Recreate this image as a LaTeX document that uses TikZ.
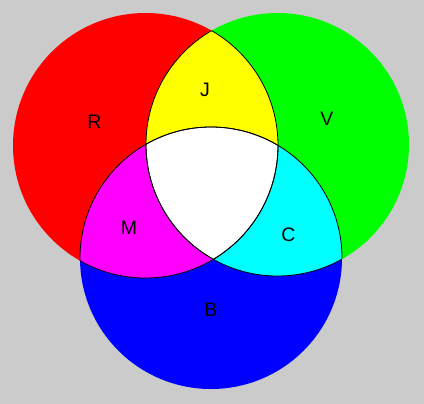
\documentclass[tikz,border=0pt]{standalone}
\usepackage{fontspec}
\setmainfont{Liberation Sans}
\definecolor{bggray}{RGB}{203,203,203}
\definecolor{cred}{RGB}{255,0,0}
\definecolor{cgreen}{RGB}{0,255,0}
\definecolor{cblue}{RGB}{0,0,255}
\definecolor{cyellow}{RGB}{255,255,0}
\definecolor{cmagenta}{RGB}{255,0,255}
\definecolor{ccyan}{RGB}{0,255,255}
\begin{document}
\begin{tikzpicture}[x=1pt,y=-1pt,
  lbl/.style={font=\fontsize{19.5}{20}\selectfont, inner sep=0pt, text=black},
  edge/.style={draw=black, line width=0.8pt}]
\fill[bggray] (0,0) rectangle (424,404);
\useasboundingbox (0,0) rectangle (424,404);
\coordinate (cr) at (145.5,145.5);
\coordinate (cg) at (277.5,144.5);
\coordinate (cb) at (211,258);
\def\RR{(cr) circle[radius=132.5pt]}
\def\GG{(cg) circle[radius=131.5pt]}
\def\BB{(cb) circle[radius=131pt]}
% base discs
\fill[cred] \RR;
\fill[cgreen] \GG;
\fill[cblue] \BB;
% pairwise overlaps
\begin{scope}\clip \RR; \fill[cyellow] \GG; \end{scope}
\begin{scope}\clip \RR; \fill[cmagenta] \BB; \end{scope}
\begin{scope}\clip \GG; \fill[ccyan] \BB; \end{scope}
% triple overlap
\begin{scope}\clip \RR; \clip \GG; \fill[white] \BB; \end{scope}
% inner boundary arcs
\begin{scope}\clip \GG; \draw[edge] \RR; \end{scope}
\begin{scope}\clip \BB; \draw[edge] \RR; \end{scope}
\begin{scope}\clip \RR; \draw[edge] \GG; \end{scope}
\begin{scope}\clip \BB; \draw[edge] \GG; \end{scope}
\begin{scope}\clip \RR; \draw[edge] \BB; \end{scope}
\begin{scope}\clip \GG; \draw[edge] \BB; \end{scope}
% labels
\node[lbl] (r) at (94.5,122) {R};
\node[lbl] (j) at (205,90) {J};
\node[lbl] (v) at (327,119) {V};
\node[lbl] (m) at (129,227.5) {M};
\node[lbl] (c) at (288.5,235) {C};
\node[lbl] (b) at (211,309.5) {B};
\end{tikzpicture}
\end{document}
